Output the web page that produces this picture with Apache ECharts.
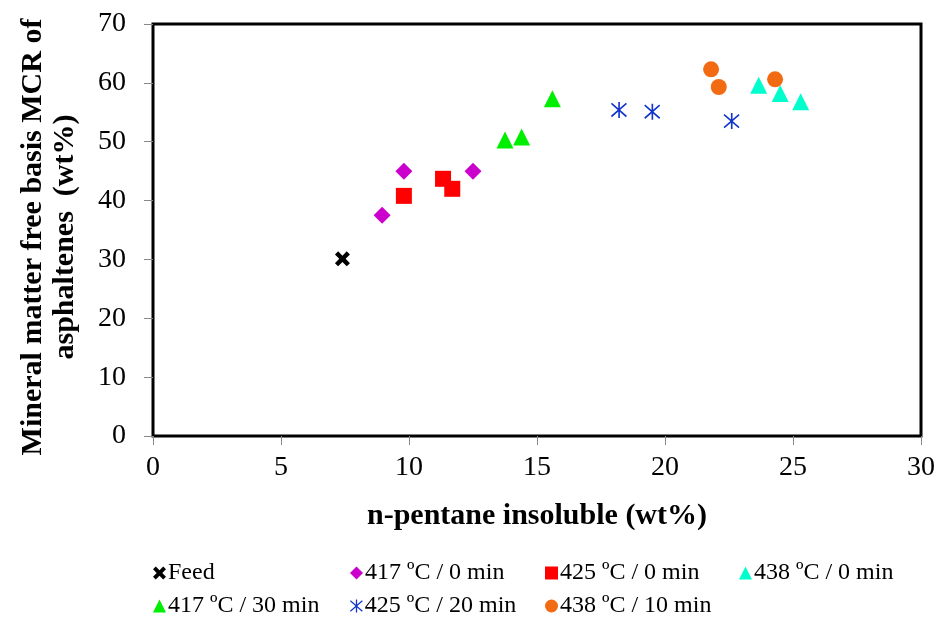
<!DOCTYPE html>
<html>
<head>
<meta charset="utf-8">
<script src="https://cdn.jsdelivr.net/npm/echarts@6/dist/echarts.min.js"></script>
<style>
html,body{margin:0;padding:0;background:#fff;}
#chart{width:943px;height:619px;}
</style>
</head>
<body>
<div id="chart"></div>
<script>
// ---- data ----
const seriesNames = ['Feed', '417 ºC / 0 min', '425 ºC / 0 min', '438 ºC / 0 min', '417 ºC / 30 min', '425 ºC / 20 min', '438 ºC / 10 min'];
const feed = [[7.4, 30.1]];
const s417_0 = [[8.95, 37.5], [9.8, 45.0], [12.5, 45.0]];
const s425_0 = [[9.8, 40.8], [11.33, 43.7], [11.69, 42.0]];
const s438_0 = [[23.66, 59.6], [24.5, 58.2], [25.3, 56.8]];
const s417_30 = [[13.75, 50.3], [14.4, 50.8], [15.6, 57.3]];
const s425_20 = [[18.2, 55.4], [19.5, 55.1], [22.6, 53.5]];
const s438_10 = [[21.8, 62.3], [22.1, 59.3], [24.3, 60.6]];
const xTicks = [0, 5, 10, 15, 20, 25, 30];
const yTicks = [0, 10, 20, 30, 40, 50, 60, 70];

const FONT = '"Liberation Serif", "Times New Roman", serif';
const xPath = 'path://M0,3 L3,0 L7,4 L11,0 L14,3 L10,7 L14,11 L11,14 L7,10 L3,14 L0,11 L4,7 Z';
const starPath = 'path://M45,0 L55,0 L55,100 L45,100 Z M6,5 L98,87 L92,95 L0,13 Z M0,87 L92,5 L98,13 L6,95 Z';

const styles = [
  {data: feed, symbol: xPath, size: 15, color: '#000000'},
  {data: s417_0, symbol: 'diamond', size: 17, color: '#CC00CC'},
  {data: s425_0, symbol: 'rect', size: 16, color: '#FF0000'},
  {data: s438_0, symbol: 'triangle', size: 17, color: '#00FFCC'},
  {data: s417_30, symbol: 'triangle', size: 17, color: '#00EE00'},
  {data: s425_20, symbol: starPath, size: 16, color: '#1034CC'},
  {data: s438_10, symbol: 'circle', size: 16, color: '#F26B12'}
];

const series = styles.map((s, i) => ({
  name: seriesNames[i],
  type: 'scatter',
  data: s.data,
  symbol: s.symbol,
  symbolSize: s.size,
  itemStyle: {color: s.color, opacity: 1},
  emphasis: {disabled: true}
}));

const legendPos = [
  [153, 561], [350, 561], [545, 561], [739, 561],
  [153, 594], [350, 594], [545, 594]
];
const legends = seriesNames.map((n, i) => ({
  data: [n],
  left: legendPos[i][0],
  top: legendPos[i][1],
  itemWidth: 13,
  itemHeight: 13,
  itemGap: 4,
  padding: 0,
  selectedMode: false,
  textStyle: {fontFamily: FONT, fontSize: 24, color: '#000', padding: [0, 0, 0, -3]}
}));

const chart = echarts.init(document.getElementById('chart'), null, {renderer: 'canvas'});
chart.setOption({
  animation: false,
  backgroundColor: '#fff',
  grid: {left: 153, top: 24, right: 22, bottom: 183, show: true, borderColor: '#000', borderWidth: 3, backgroundColor: 'transparent'},
  legend: legends,
  xAxis: {
    type: 'value', min: xTicks[0], max: xTicks[xTicks.length - 1], interval: 5,
    name: 'n-pentane insoluble (wt%)', nameLocation: 'middle', nameGap: 65,
    nameTextStyle: {fontFamily: FONT, fontSize: 30, fontWeight: 'bold', color: '#000'},
    axisLine: {show: true, lineStyle: {color: '#000', width: 1}},
    axisTick: {show: true, inside: false, length: 9, lineStyle: {color: '#888'}},
    axisLabel: {fontFamily: FONT, fontSize: 28, color: '#000', margin: 18},
    splitLine: {show: false}
  },
  yAxis: {
    type: 'value', min: yTicks[0], max: yTicks[yTicks.length - 1], interval: 10,
    name: 'Mineral matter free basis MCR of\nasphaltenes  (wt%)', nameLocation: 'middle', nameGap: 72,
    nameTextStyle: {fontFamily: FONT, fontSize: 30, fontWeight: 'bold', color: '#000', lineHeight: 32, padding: [0, 14, 0, 0]},
    axisLine: {show: true, lineStyle: {color: '#000', width: 1}},
    axisTick: {show: true, inside: false, length: 9, lineStyle: {color: '#888'}},
    axisLabel: {fontFamily: FONT, fontSize: 28, color: '#000', margin: 27},
    splitLine: {show: false}
  },
  series: series
});
</script>
</body>
</html>
